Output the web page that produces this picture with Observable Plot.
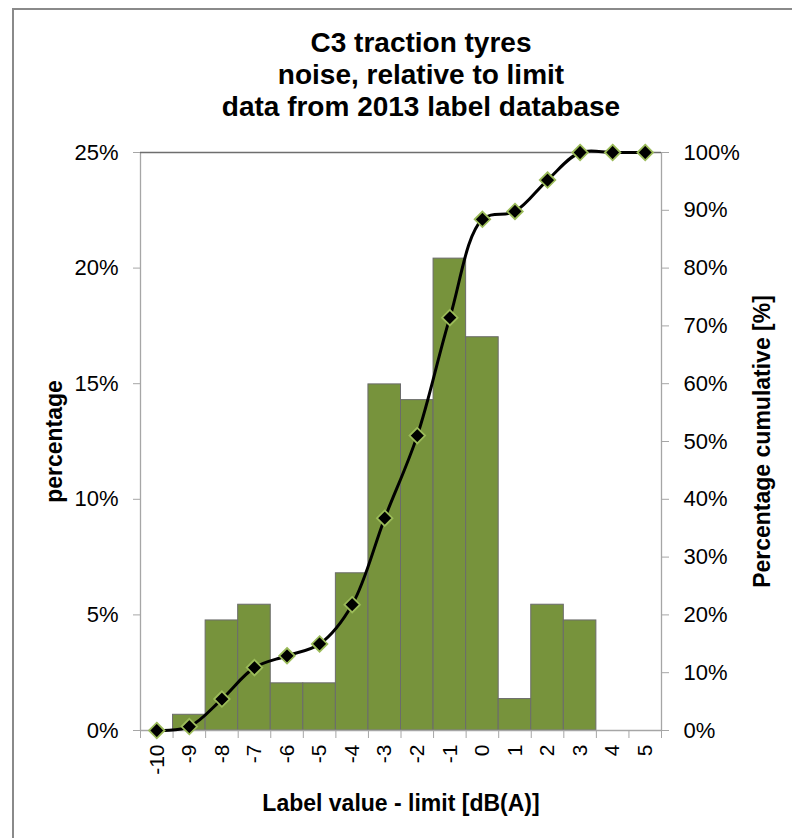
<!DOCTYPE html>
<html>
<head>
<meta charset="utf-8">
<script src="https://cdn.jsdelivr.net/npm/d3@7"></script>
<script src="https://cdn.jsdelivr.net/npm/@observablehq/plot@0.6"></script>
<style>
  html, body { margin: 0; padding: 0; background: #fff; overflow: hidden; }
  #wrap { position: relative; width: 792px; height: 838px; overflow: hidden; font-family: "Liberation Sans", Arial, sans-serif; }
  #frame { position: absolute; left: 12px; top: 8px; width: 900px; height: 900px; border: 2px solid #8a8a8a; box-sizing: border-box; }
  #title { position: relative; height: 130px; box-sizing: border-box; padding-top: 27px; padding-left: 50px; text-align: center; font-weight: bold; font-size: 28px; line-height: 32px; color: #000; }
  #chart { position: relative; }
  #chart svg { display: block; }
</style>
</head>
<body>
<div id="wrap">
  <div id="frame"></div>
  <div id="title"></div>
  <div id="chart"></div>
</div>
<script>
const titleLines = ["C3 traction tyres", "noise, relative to limit", "data from 2013 label database"];
const categories = [-10, -9, -8, -7, -6, -5, -4, -3, -2, -1, 0, 1, 2, 3, 4, 5];
const percentage = [0, 0.68, 4.76, 5.44, 2.04, 2.04, 6.80, 14.97, 14.29, 20.41, 17.01, 1.36, 5.44, 4.76, 0, 0];
const cumulative = [0, 0.68, 5.44, 10.88, 12.93, 14.97, 21.77, 36.73, 51.02, 71.43, 88.44, 89.80, 95.24, 100, 100, 100];
const leftTicks = [0, 5, 10, 15, 20, 25];
const rightTicks = [0, 10, 20, 30, 40, 50, 60, 70, 80, 90, 100];
const yLabel = "percentage";
const y2Label = "Percentage cumulative [%]";
const xLabel = "Label value - limit [dB(A)]";

document.getElementById("title").innerHTML = titleLines.map(t => `<div>${t}</div>`).join("");

const data = categories.map((c, i) => ({c, p: percentage[i], cum: cumulative[i]}));
const leftMax = leftTicks[leftTicks.length - 1];
const rightMax = rightTicks[rightTicks.length - 1];
const ratio = rightMax / leftMax;
const boundaries = [...categories.map(c => c - 0.5), categories[categories.length - 1] + 0.5];
const xDomain = [boundaries[0], boundaries[boundaries.length - 1]];

const axisGray = "#a6a6a6";
const font = "Liberation Sans, Arial, sans-serif";

const chart = Plot.plot({
  width: 792,
  height: 708,
  marginLeft: 140,
  marginRight: 131,
  marginTop: 22,
  marginBottom: 108,
  style: {fontFamily: font, color: "#000", background: "transparent", overflow: "visible"},
  x: {type: "linear", domain: xDomain, axis: null},
  y: {domain: [0, leftMax], axis: null},
  marks: [
    Plot.rect(data.filter(d => d.p > 0), {x1: d => d.c - 0.5, x2: d => d.c + 0.5, y1: 0, y2: "p", fill: "#77933C", stroke: "#6b6b6b", strokeWidth: 1}),
    Plot.ruleX([xDomain[0]], {stroke: axisGray, strokeWidth: 1.3}),
    Plot.ruleX([xDomain[1]], {stroke: axisGray, strokeWidth: 1.3}),
    Plot.ruleY([0], {stroke: axisGray, strokeWidth: 1.3}),
    Plot.ruleY([leftMax], {stroke: "#6e6e6e", strokeWidth: 1.3}),
    Plot.axisY(leftTicks, {anchor: "left", label: null, tickSize: 7, tickPadding: 15, stroke: axisGray, fontSize: 22, tickFormat: d => d + "%", fill: "#000"}),
    Plot.axisY(rightTicks.map(v => v / ratio), {anchor: "right", label: null, tickSize: 7, tickPadding: 15, stroke: axisGray, fontSize: 22, tickFormat: d => Math.round(d * ratio) + "%", fill: "#000"}),
    Plot.axisX(boundaries, {anchor: "bottom", label: null, tickSize: 8, stroke: axisGray, tickFormat: () => ""}),
    Plot.axisX(categories, {anchor: "bottom", label: null, tickSize: 0, tickPadding: 14, tickRotate: -90, fontSize: 21, tickFormat: d => String(d), fill: "#000"}),
    Plot.line(data, {x: "c", y: d => d.cum / ratio, curve: "catmull-rom", stroke: "#000", strokeWidth: 3}),
    Plot.dot(data, {x: "c", y: d => d.cum / ratio, symbol: "diamond2", r: 7, fill: "#000", stroke: "#9BBB59", strokeWidth: 1.8}),
    Plot.text([yLabel], {frameAnchor: "left", textAnchor: "middle", lineAnchor: "middle", dx: -86, rotate: -90, fontSize: 23, fontWeight: "bold", fill: "#000"}),
    Plot.text([y2Label], {frameAnchor: "right", textAnchor: "middle", lineAnchor: "middle", dx: 101, rotate: -90, fontSize: 23, fontWeight: "bold", fill: "#000"}),
    Plot.text([xLabel], {frameAnchor: "bottom", textAnchor: "middle", lineAnchor: "middle", dy: 73, fontSize: 23, fontWeight: "bold", fill: "#000"})
  ]
});
document.getElementById("chart").appendChild(chart);
</script>
</body>
</html>
